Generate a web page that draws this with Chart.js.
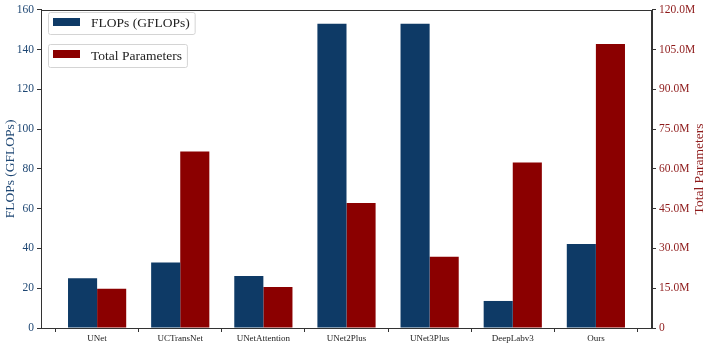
<!DOCTYPE html>
<html>
<head>
<meta charset="utf-8">
<script src="https://cdn.jsdelivr.net/npm/chart.js@4/dist/chart.umd.min.js"></script>
<style>
  html, body { margin: 0; padding: 0; background: #ffffff; }
  #wrap { width: 708px; height: 344px; }
</style>
</head>
<body>
<div id="wrap"><canvas id="c" width="708" height="344"></canvas></div>
<script>
// ---- data ----
const categories = ['UNet', 'UCTransNet', 'UNetAttention', 'UNet2Plus', 'UNet3Plus', 'DeepLabv3', 'Ours'];
const flopsG = [25.0, 32.9, 26.2, 153.0, 153.0, 13.6, 42.2];           // GFLOPs
const paramsM = [14.8, 66.6, 15.5, 47.2, 26.9, 62.4, 107.1];           // millions
const flopsTicks = [0, 20, 40, 60, 80, 100, 120, 140, 160];
const paramTicksM = [0, 15, 30, 45, 60, 75, 90, 105, 120];
const seriesNames = ['FLOPs (GFLOPs)', 'Total Parameters'];

const BLUE = '#0e3a66';
const RED = '#8b0000';
const BLUE_TXT = '#1d4673';
const RED_TXT = '#8e1a1a';
const AXIS = '#333333';
const FONT = '"Liberation Serif", "Times New Roman", serif';

const flopsData = flopsG.map((v, i) => ({ x: i, y: v }));
const paramsData = paramsM.map((v, i) => ({ x: i, y: v * 1e6 }));

const overlay = {
  id: 'overlay',
  afterDraw(chart) {
    const ctx = chart.ctx;
    const a = chart.chartArea;
    ctx.save();
    // frame (top spine)
    ctx.strokeStyle = AXIS;
    ctx.lineWidth = 1;
    ctx.strokeRect(Math.round(a.left) + 0.5, Math.round(a.top) + 0.5,
                   Math.round(a.right - a.left) - 1, Math.round(a.bottom - a.top));
    // axis titles
    ctx.font = '13.5px ' + FONT;
    ctx.textAlign = 'center';
    ctx.textBaseline = 'middle';
    const midY = (a.top + a.bottom) / 2;
    ctx.fillStyle = BLUE_TXT;
    ctx.save();
    ctx.translate(10, midY);
    ctx.rotate(-Math.PI / 2);
    ctx.fillText(seriesNames[0], 0, 0);
    ctx.restore();
    ctx.fillStyle = RED_TXT;
    ctx.save();
    ctx.translate(699, midY);
    ctx.rotate(-Math.PI / 2);
    ctx.fillText(seriesNames[1], 0, 0);
    ctx.restore();
    // two separate legend boxes
    const ds = chart.data.datasets;
    const boxes = [{ y: 12, h: 22 }, { y: 44, h: 23 }];
    ctx.font = '13.5px ' + FONT;
    ctx.textAlign = 'left';
    ds.forEach((d, i) => {
      const b = boxes[i];
      const tw = ctx.measureText(d.label).width;
      const x = 48, w = (91 - x) + tw + 5;
      ctx.fillStyle = 'rgba(255,255,255,0.8)';
      ctx.strokeStyle = '#d4d4d4';
      ctx.lineWidth = 1;
      ctx.beginPath();
      if (ctx.roundRect) ctx.roundRect(x + 0.5, b.y + 0.5, w, b.h, 2);
      else ctx.rect(x + 0.5, b.y + 0.5, w, b.h);
      ctx.fill();
      ctx.stroke();
      ctx.fillStyle = d.backgroundColor;
      ctx.fillRect(53, b.y + 6, 27, 8);
      ctx.fillStyle = '#222';
      ctx.fillText(d.label, 91, b.y + b.h / 2 + 0.5);
    });
    ctx.restore();
  }
};

new Chart(document.getElementById('c'), {
  type: 'bar',
  data: {
    datasets: [
      { label: seriesNames[0], data: flopsData, backgroundColor: BLUE, yAxisID: 'y', xAxisID: 'x',
        categoryPercentage: 0.7, barPercentage: 1.0, borderWidth: 0 },
      { label: seriesNames[1], data: paramsData, backgroundColor: RED, yAxisID: 'y1', xAxisID: 'x',
        categoryPercentage: 0.7, barPercentage: 1.0, borderWidth: 0 }
    ]
  },
  options: {
    responsive: false,
    animation: false,
    events: [],
    layout: { padding: { top: 6, left: 0, right: 0, bottom: 0 } },
    plugins: { legend: { display: false }, tooltip: { enabled: false }, title: { display: false } },
    scales: {
      x: {
        type: 'linear',
        position: 'bottom',
        min: -0.675,
        max: 6.675,
        offset: false,
        afterBuildTicks(scale) { scale.ticks = categories.map((c, i) => ({ value: i })); },
        afterFit(scale) { scale.height = 16; },
        ticks: {
          autoSkip: false,
          maxRotation: 0,
          padding: 1,
          color: '#222',
          font: { family: FONT, size: 9 },
          callback: (v) => categories[v]
        },
        grid: { drawOnChartArea: false, drawTicks: true, tickLength: 4, color: AXIS },
        border: { display: true, color: AXIS, width: 1 }
      },
      y: {
        type: 'linear',
        position: 'left',
        min: 0,
        max: 160,
        afterBuildTicks(scale) { scale.ticks = flopsTicks.map(v => ({ value: v })); },
        afterFit(scale) { scale.width = 41; },
        ticks: { color: BLUE_TXT, padding: 3, font: { family: FONT, size: 11.5 } },
        grid: { drawOnChartArea: false, drawTicks: true, tickLength: 4, color: AXIS },
        border: { display: true, color: AXIS, width: 1 }
      },
      y1: {
        type: 'linear',
        position: 'right',
        min: 0,
        max: 120e6,
        afterBuildTicks(scale) { scale.ticks = paramTicksM.map(v => ({ value: v * 1e6 })); },
        afterFit(scale) { scale.width = 56; },
        ticks: {
          color: RED_TXT,
          padding: 3,
          font: { family: FONT, size: 11.5 },
          callback: (v) => v === 0 ? '0' : (v / 1e6).toFixed(1) + 'M'
        },
        grid: { drawOnChartArea: false, drawTicks: true, tickLength: 4, color: AXIS },
        border: { display: true, color: AXIS, width: 1 }
      }
    }
  },
  plugins: [overlay]
});
</script>
</body>
</html>
